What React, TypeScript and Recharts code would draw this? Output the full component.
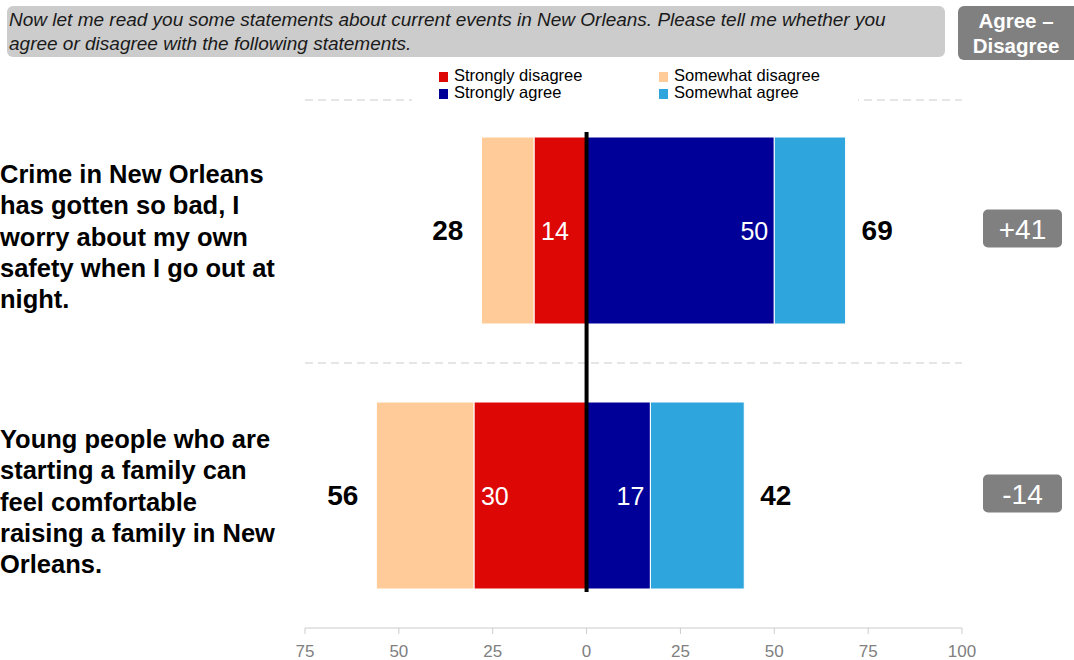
import { BarChart, Bar, XAxis, YAxis, CartesianGrid, ReferenceLine, LabelList } from "recharts"

const statements = [
  "Crime in New Orleans has gotten so bad, I worry about my own safety when I go out at night.",
  "Young people who are starting a family can feel comfortable raising a family in New Orleans.",
]
const statementLines = [
  ["Crime in New Orleans", "has gotten so bad, I", "worry about my own", "safety when I go out at", "night."],
  ["Young people who are", "starting a family can", "feel comfortable", "raising a family in New", "Orleans."],
]
const stronglyDisagree = [14, 30]
const somewhatDisagree = [14, 26]
const stronglyAgree = [50, 17]
const somewhatAgree = [19, 25]
const totalDisagree = [28, 56]
const totalAgree = [69, 42]
const netScore = ["+41", "-14"]
const xTicks = [-75, -50, -25, 0, 25, 50, 75, 100]

const series = [
  { key: "stronglyDisagree", name: "Strongly disagree", color: "#DD0806" },
  { key: "somewhatDisagree", name: "Somewhat disagree", color: "#FFCC99" },
  { key: "stronglyAgree", name: "Strongly agree", color: "#000099" },
  { key: "somewhatAgree", name: "Somewhat agree", color: "#2EA5DC" },
]

const data = statements.map((s, i) => ({
  statement: s,
  stronglyDisagree: -stronglyDisagree[i],
  somewhatDisagree: -somewhatDisagree[i],
  stronglyAgree: stronglyAgree[i],
  somewhatAgree: somewhatAgree[i],
  totalDisagree: totalDisagree[i],
  totalAgree: totalAgree[i],
  net: netScore[i],
}))

const FONT = "'Liberation Sans', Arial, sans-serif"

const StatementTick = (props: any) => {
  const idx = statements.indexOf(props.payload.value)
  const lines = statementLines[idx] || []
  const step = 31.3
  const start = props.y + 6 - ((lines.length - 1) / 2) * step
  return (
    <g>
      {lines.map((l, i) => (
        <text key={i} x={0} y={start + i * step} dominantBaseline="central" textAnchor="start"
          fontFamily={FONT} fontWeight="bold" fontSize={25.5} fill="#000">{l}</text>
      ))}
    </g>
  )
}

const bounds = (p: any) => {
  const x = Number(p.x), w = Number(p.width)
  return { left: Math.min(x, x + w), right: Math.max(x, x + w), cy: Number(p.y) + Number(p.height) / 2 }
}

const InsideLabel = (side: "left" | "right") => (p: any) => {
  const b = bounds(p)
  const x = side === "left" ? b.left + 7 : b.right - 6
  return (
    <text x={x} y={b.cy} textAnchor={side === "left" ? "start" : "end"} dominantBaseline="central"
      fontFamily={FONT} fontSize={25} fill="#fff">{Math.abs(Number(p.value))}</text>
  )
}

const TotalLabel = (side: "left" | "right") => (p: any) => {
  const b = bounds(p)
  const x = side === "left" ? b.left - 18 : b.right + 16
  return (
    <text x={x} y={b.cy} textAnchor={side === "left" ? "end" : "start"} dominantBaseline="central"
      fontFamily={FONT} fontWeight="bold" fontSize={28} fill="#000">{p.value}</text>
  )
}

const NetBadge = (p: any) => {
  const b = bounds(p)
  return (
    <g>
      <rect x={983} y={b.cy - 21} width={79} height={38} rx={5} fill="#808080" />
      <text x={1022.5} y={b.cy - 1} textAnchor="middle" dominantBaseline="central"
        fontFamily={FONT} fontSize={28} fill="#fff">{p.value}</text>
    </g>
  )
}

export default function App() {
  return (
    <div style={{ position: "relative", width: 1074, height: 660, fontFamily: FONT, background: "#fff" }}>
      <style>{`body{margin:0}`}</style>
      <BarChart width={1074} height={660} data={data} layout="vertical" stackOffset="sign"
        barSize={187} margin={{ top: 98, right: 112, bottom: 0, left: 0 }}>
        <CartesianGrid vertical={false} stroke="#cccccc" strokeDasharray="8 5"
          horizontalCoordinatesGenerator={({ offset }: any) => [offset.top + 2, offset.top + offset.height / 2]} />
        <XAxis type="number" domain={[-75, 100]} ticks={xTicks} interval={0} height={32}
          tickFormatter={(v: number) => String(Math.abs(v))} stroke="#cccccc" tickSize={6} tickMargin={11}
          tick={{ fill: "#808080", fontSize: 17, fontFamily: FONT }} />
        <YAxis type="category" dataKey="statement" width={305} axisLine={false} tickLine={false}
          tick={(p: any) => <StatementTick {...p} />} />
        {series.map((s) => (
          <Bar key={s.key} dataKey={s.key} name={s.name} stackId="a" fill={s.color} stroke="#fff"
            strokeWidth={1} isAnimationActive={false}>
            {s.key === "stronglyDisagree" && <LabelList dataKey={s.key} content={InsideLabel("left")} />}
            {s.key === "stronglyAgree" && <LabelList dataKey={s.key} content={InsideLabel("right")} />}
            {s.key === "somewhatDisagree" && <LabelList dataKey="totalDisagree" content={TotalLabel("left")} />}
            {s.key === "somewhatAgree" && <LabelList dataKey="totalAgree" content={TotalLabel("right")} />}
            {s.key === "somewhatAgree" && <LabelList dataKey="net" content={NetBadge} />}
          </Bar>
        ))}
        <ReferenceLine x={0} stroke="#000" strokeWidth={4}
          shape={(p: any) => {
            const top = Math.min(p.y1, p.y2), bottom = Math.max(p.y1, p.y2)
            return <line x1={p.x1} x2={p.x2} y1={top + 34} y2={bottom - 36} stroke="#000" strokeWidth={4} />
          }} />
      </BarChart>

      <div style={{ position: "absolute", left: 7, top: 6, width: 938, height: 51, background: "#cccccc",
        borderRadius: 6, boxSizing: "border-box", padding: "2px 0 0 2px", fontStyle: "italic", fontSize: 19,
        lineHeight: "24px", color: "#1a1a1a", whiteSpace: "nowrap" }}>
        Now let me read you some statements about current events in New Orleans. Please tell me whether you<br />
        agree or disagree with the following statements.
      </div>
      <div style={{ position: "absolute", left: 958, top: 6, width: 116, height: 54, background: "#808080",
        borderRadius: "6px 0 0 6px", color: "#fff", fontWeight: "bold", fontSize: 20.5, lineHeight: "25px",
        textAlign: "center", boxSizing: "border-box", paddingTop: 2, whiteSpace: "nowrap" }}>
        Agree –<br />Disagree
      </div>

      <div style={{ position: "absolute", left: 412, top: 66, width: 446, height: 37, background: "#fff" }}>
        {series.map((s, i) => {
          const order = [0, 2, 1, 3]
          const pos = order[i]
          const col = Math.floor(pos / 2)
          const row = pos % 2
          return (
            <div key={s.key} style={{ position: "absolute", left: 27 + col * 220, top: 1 + row * 17,
              fontSize: 16.5, lineHeight: "17px", height: 17, color: "#000", whiteSpace: "nowrap" }}>
              <span style={{ display: "inline-block", width: 9, height: 10, background: s.color,
                marginRight: 6, verticalAlign: "-1px" }} />
              {s.name}
            </div>
          )
        })}
      </div>
    </div>
  )
}
